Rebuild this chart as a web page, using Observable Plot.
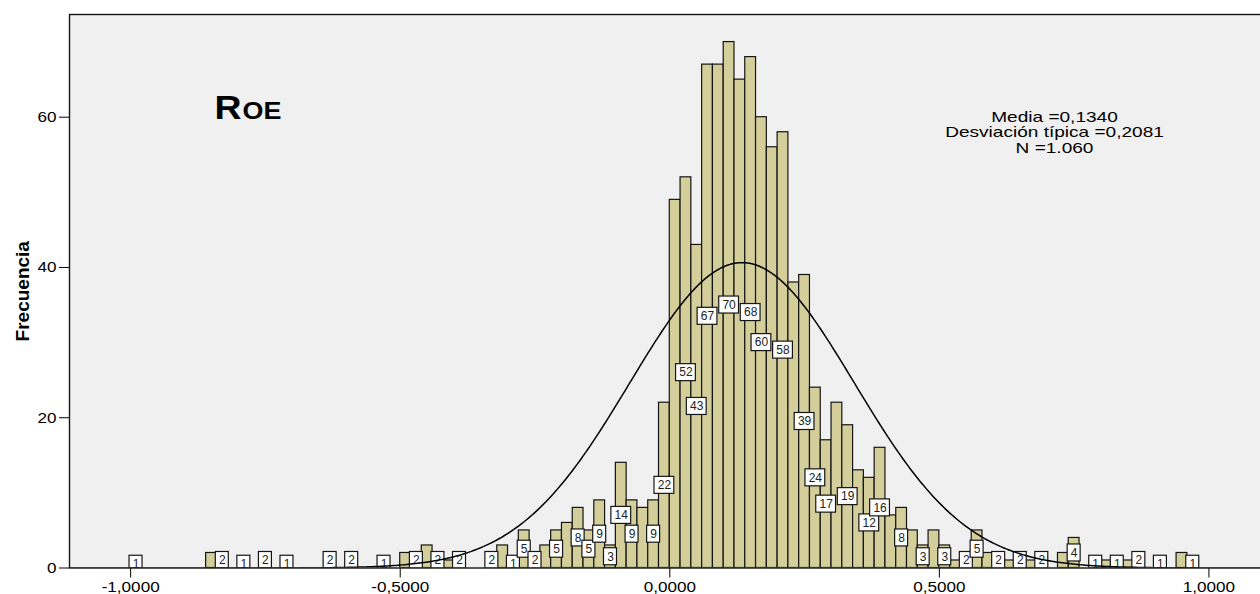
<!DOCTYPE html>
<html>
<head>
<meta charset="utf-8">
<script src="https://cdn.jsdelivr.net/npm/d3@7"></script>
<script src="https://cdn.jsdelivr.net/npm/@observablehq/plot@0.6"></script>
<style>
html, body { margin: 0; padding: 0; background: #ffffff; }
#chart { width: 1260px; height: 594px; }
#chart svg { display: block; }
</style>
</head>
<body>
<div id="chart"></div>
<script>
// ---- data ----
const firstBinStart = -1.0;
const binWidth = 0.02;
// counts per bin, bins from -1.00 to 0.98 (last bin starts at 0.96)
const counts = [
  1, 0, 0, 0, 0, 0, 0, 2, 2, 0,     // -1.00 .. -0.82
  1, 0, 2, 0, 1, 0, 0, 0, 2, 0,     // -0.80 .. -0.62
  2, 0, 0, 1, 0, 2, 2, 3, 2, 1,     // -0.60 .. -0.42
  2, 0, 0, 2, 3, 1, 5, 2, 3, 5,     // -0.40 .. -0.22
  6, 8, 5, 9, 3, 14, 9, 8, 9, 22,   // -0.20 .. -0.02
  49, 52, 43, 67, 67, 70, 65, 68, 60, 56, // 0.00 .. 0.18
  58, 38, 39, 24, 17, 22, 19, 13, 12, 16, // 0.20 .. 0.38
  7, 8, 5, 3, 5, 3, 1, 2, 5, 2,     // 0.40 .. 0.58
  2, 1, 2, 1, 2, 0, 2, 4, 0, 1,     // 0.60 .. 0.78
  1, 1, 1, 2, 0, 1, 0, 2, 1         // 0.80 .. 0.96
];
// bins (by start value) that carry a boxed count label
const labeledBins = [
  -1.00, -0.84, -0.80, -0.76, -0.72, -0.64, -0.60, -0.54, -0.48, -0.44,
  -0.40, -0.34, -0.30, -0.28, -0.26, -0.22, -0.18, -0.16, -0.14, -0.12,
  -0.10, -0.08, -0.04, -0.02, 0.02, 0.04, 0.06, 0.10, 0.14, 0.16,
  0.20, 0.24, 0.26, 0.28, 0.32, 0.36, 0.38, 0.42, 0.46, 0.50,
  0.54, 0.56, 0.60, 0.64, 0.68, 0.74, 0.78, 0.82, 0.86, 0.90, 0.96
];
const statMean = 0.1340;
const statSd = 0.2081;
const statN = 1060;
const xTicks = [-1, -0.5, 0, 0.5, 1];
const yTicks = [0, 20, 40, 60];
const statsLines = ["Media =0,1340", "Desviación típica =0,2081", "N =1.060"];
const titleBig = "R";
const titleSmall = "OE";
const yLabel = "Frecuencia";

// ---- derived tables ----
const bins = counts.map((c, i) => ({
  x1: +(firstBinStart + i * binWidth).toFixed(2),
  x2: +(firstBinStart + (i + 1) * binWidth).toFixed(2),
  count: c
}));
const labelKeys = new Set(labeledBins.map(v => Math.round(v * 100)));
const labels = bins
  .filter(b => labelKeys.has(Math.round(b.x1 * 100)))
  .map(b => ({...b, mid: b.count / 2, text: String(b.count)}));

// fitted normal curve from the stated mean, sd and N
const peak = statN * binWidth / (statSd * Math.sqrt(2 * Math.PI));
const curve = d3.range(-1.12, 1.1, 0.004).map(x => ({
  x, y: peak * Math.exp(-0.5 * ((x - statMean) / statSd) ** 2)
}));

const plot = Plot.plot({
  width: 1260,
  height: 594,
  marginLeft: 69,
  marginRight: -1,
  marginTop: 14,
  marginBottom: 26.5,
  style: {
    fontFamily: "'Liberation Sans', Arial, Helvetica, sans-serif",
    fontSize: "15px",
    color: "#000",
    background: "transparent",
    overflow: "visible"
  },
  x: {
    domain: [-1.1134, 1.0975],
    ticks: xTicks,
    tickFormat: d => d.toFixed(4).replace(".", ","),
    tickSize: 10,
    tickPadding: 3,
    label: null
  },
  y: {
    domain: [0, 73.67],
    ticks: yTicks,
    tickSize: 10,
    tickPadding: 3,
    label: null
  },
  marks: [
    Plot.frame({fill: "#f0f0f0", stroke: "none"}),
    Plot.rectY(bins.filter(b => b.count > 0), {
      x1: "x1", x2: "x2", y: "count",
      fill: "#d3ce9a", stroke: "#151515", strokeWidth: 1.2, clip: true
    }),
    Plot.rect(labels.filter(d => d.text.length === 1), {
      x1: "x1", x2: "x2", y1: "mid", y2: "mid",
      insetLeft: -1.1, insetRight: -1.1, insetTop: -8.5, insetBottom: -8.5,
      fill: "white", stroke: "#151515", strokeWidth: 1.2, clip: true
    }),
    Plot.rect(labels.filter(d => d.text.length === 2), {
      x1: "x1", x2: "x2", y1: "mid", y2: "mid",
      insetLeft: -4.5, insetRight: -4.5, insetTop: -8.5, insetBottom: -8.5,
      fill: "white", stroke: "#151515", strokeWidth: 1.2, clip: true
    }),
    Plot.text(labels, {
      x: d => (d.x1 + d.x2) / 2, y: "mid", text: "text",
      fontSize: 12, fill: "#222", clip: true
    }),
    Plot.line(curve, {x: "x", y: "y", stroke: "#000", strokeWidth: 1.5, clip: true}),
    Plot.frame({fill: "none", stroke: "#151515", strokeWidth: 1.4}),
    Plot.text([yLabel], {
      frameAnchor: "left", rotate: -90, dx: -47, textAnchor: "middle", lineAnchor: "middle",
      fontWeight: "bold", fontSize: 19, fill: "#000", ariaDescription: "ylabel"
    }),
    Plot.text([titleBig], {
      frameAnchor: "top-left", dx: 145, dy: 104.3, lineAnchor: "bottom",
      textAnchor: "start", fontSize: 34, fontWeight: "bold", fill: "#000",
      ariaDescription: "title"
    }),
    Plot.text([titleSmall], {
      frameAnchor: "top-left", dx: 173, dy: 104.3, lineAnchor: "bottom",
      textAnchor: "start", fontSize: 24.5, fontWeight: "bold", fill: "#000",
      ariaDescription: "title"
    }),
    Plot.text([statsLines.join("\n")], {
      frameAnchor: "top-left", dx: 985, dy: 138.7, lineAnchor: "bottom",
      textAnchor: "middle", fontSize: 15, lineHeight: 1.053, fill: "#000",
      ariaDescription: "stats"
    })
  ]
});

document.getElementById("chart").append(plot);

// stretch glyphs horizontally like the reference export
function stretch(selector, factor) {
  plot.querySelectorAll(selector).forEach(t => {
    const len = t.getComputedTextLength();
    if (len > 0) {
      t.setAttribute("textLength", (len * factor).toFixed(1));
      t.setAttribute("lengthAdjust", "spacingAndGlyphs");
    }
  });
}
stretch('g[aria-label^="x-axis"] text, g[aria-label^="y-axis"] text', 1.14);
stretch('g[aria-description="stats"] tspan', 1.27);
stretch('g[aria-description="title"] text', 1.1);
</script>
</body>
</html>
